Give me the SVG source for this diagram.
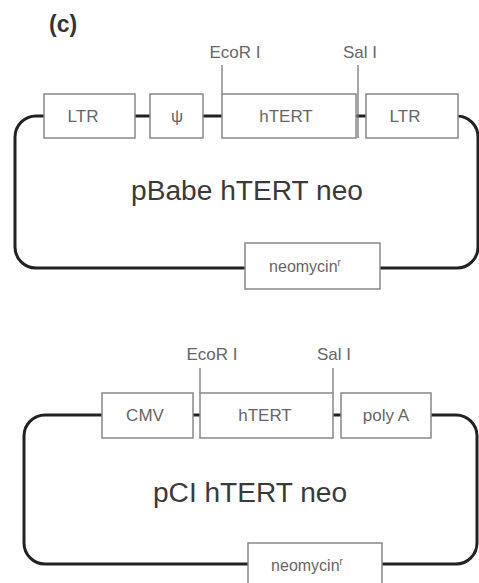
<svg xmlns="http://www.w3.org/2000/svg" width="479" height="583" viewBox="0 0 479 583">
<style>
.bb{fill:none;stroke:#222;stroke-width:3;stroke-linecap:butt}
.box{fill:#fff;stroke:#888;stroke-width:1.5}
.site{stroke:#777;stroke-width:1.3}
.lbl{font-family:"Liberation Sans",Arial,sans-serif;font-size:17px;fill:#666;text-anchor:middle}
.title{font-family:"Liberation Sans",Arial,sans-serif;font-size:27px;fill:#3a3a3a;text-anchor:middle}
.hdr{font-family:"Liberation Sans",Arial,sans-serif;font-size:23px;font-weight:bold;fill:#333}
</style>
<rect width="479" height="583" fill="#fff"/>
<text class="hdr" x="49" y="32">(c)</text>

<g id="connectors">
  <path class="bb" d="M44,116 H36 A21,21 0 0 0 15,137 V247 A21,21 0 0 0 36,268 H245"/>
  <path class="bb" d="M380,268 H457 A21,21 0 0 0 478,247 V137 A21,21 0 0 0 457,116 H458"/>
  <path class="bb" d="M135,116 H150 M203,116 H222 M356,116 H366"/>
  <path class="bb" d="M102,415 H45 A21,21 0 0 0 24,436 V543 A21,21 0 0 0 45,564 H248"/>
  <path class="bb" d="M382,564 H456 A21,21 0 0 0 477,543 V436 A21,21 0 0 0 456,415 H431"/>
  <path class="bb" d="M193,415 H200 M333,415 H341"/>
  <line class="site" x1="222" y1="65" x2="222" y2="94"/>
  <line class="site" x1="358" y1="65" x2="358" y2="138"/>
  <line class="site" x1="200" y1="368" x2="200" y2="393"/>
  <line class="site" x1="333" y1="368" x2="333" y2="393"/>
</g>

<g id="ecori1"><text class="lbl" x="235" y="58">EcoR I</text></g>
<g id="sali1"><text class="lbl" x="360" y="58">Sal I</text></g>

<g id="ltr1"><rect class="box" x="44" y="94" width="91" height="44"/><text class="lbl" x="83" y="122">LTR</text></g>
<g id="psi"><rect class="box" x="150" y="94" width="53" height="44"/><text class="lbl" x="177" y="122">ψ</text></g>
<g id="htert1"><rect class="box" x="222" y="94" width="134" height="44"/><text class="lbl" x="286" y="122">hTERT</text></g>
<g id="ltr2"><rect class="box" x="366" y="94" width="92" height="44"/><text class="lbl" x="405" y="122">LTR</text></g>
<g id="title1"><text class="title" x="247" y="200" textLength="232" lengthAdjust="spacingAndGlyphs">pBabe hTERT neo</text></g>
<g id="neo1"><rect class="box" x="245" y="243" width="135" height="46"/><text class="lbl" x="305" y="272" style="font-size:16px">neomycin<tspan dy="-6" style="font-size:10px">r</tspan></text></g>

<g id="ecori2"><text class="lbl" x="212" y="360">EcoR I</text></g>
<g id="sali2"><text class="lbl" x="334" y="360">Sal I</text></g>
<g id="cmv"><rect class="box" x="102" y="393" width="91" height="45"/><text class="lbl" x="145" y="421">CMV</text></g>
<g id="htert2"><rect class="box" x="200" y="393" width="133" height="45"/><text class="lbl" x="265" y="421">hTERT</text></g>
<g id="polya"><rect class="box" x="341" y="393" width="90" height="45"/><text class="lbl" x="386" y="421">poly A</text></g>
<g id="title2"><text class="title" x="250" y="502" textLength="194" lengthAdjust="spacingAndGlyphs">pCI hTERT neo</text></g>
<g id="neo2"><rect class="box" x="248" y="543" width="134" height="46"/><text class="lbl" x="307" y="571" style="font-size:16px">neomycin<tspan dy="-6" style="font-size:10px">r</tspan></text></g>
</svg>
